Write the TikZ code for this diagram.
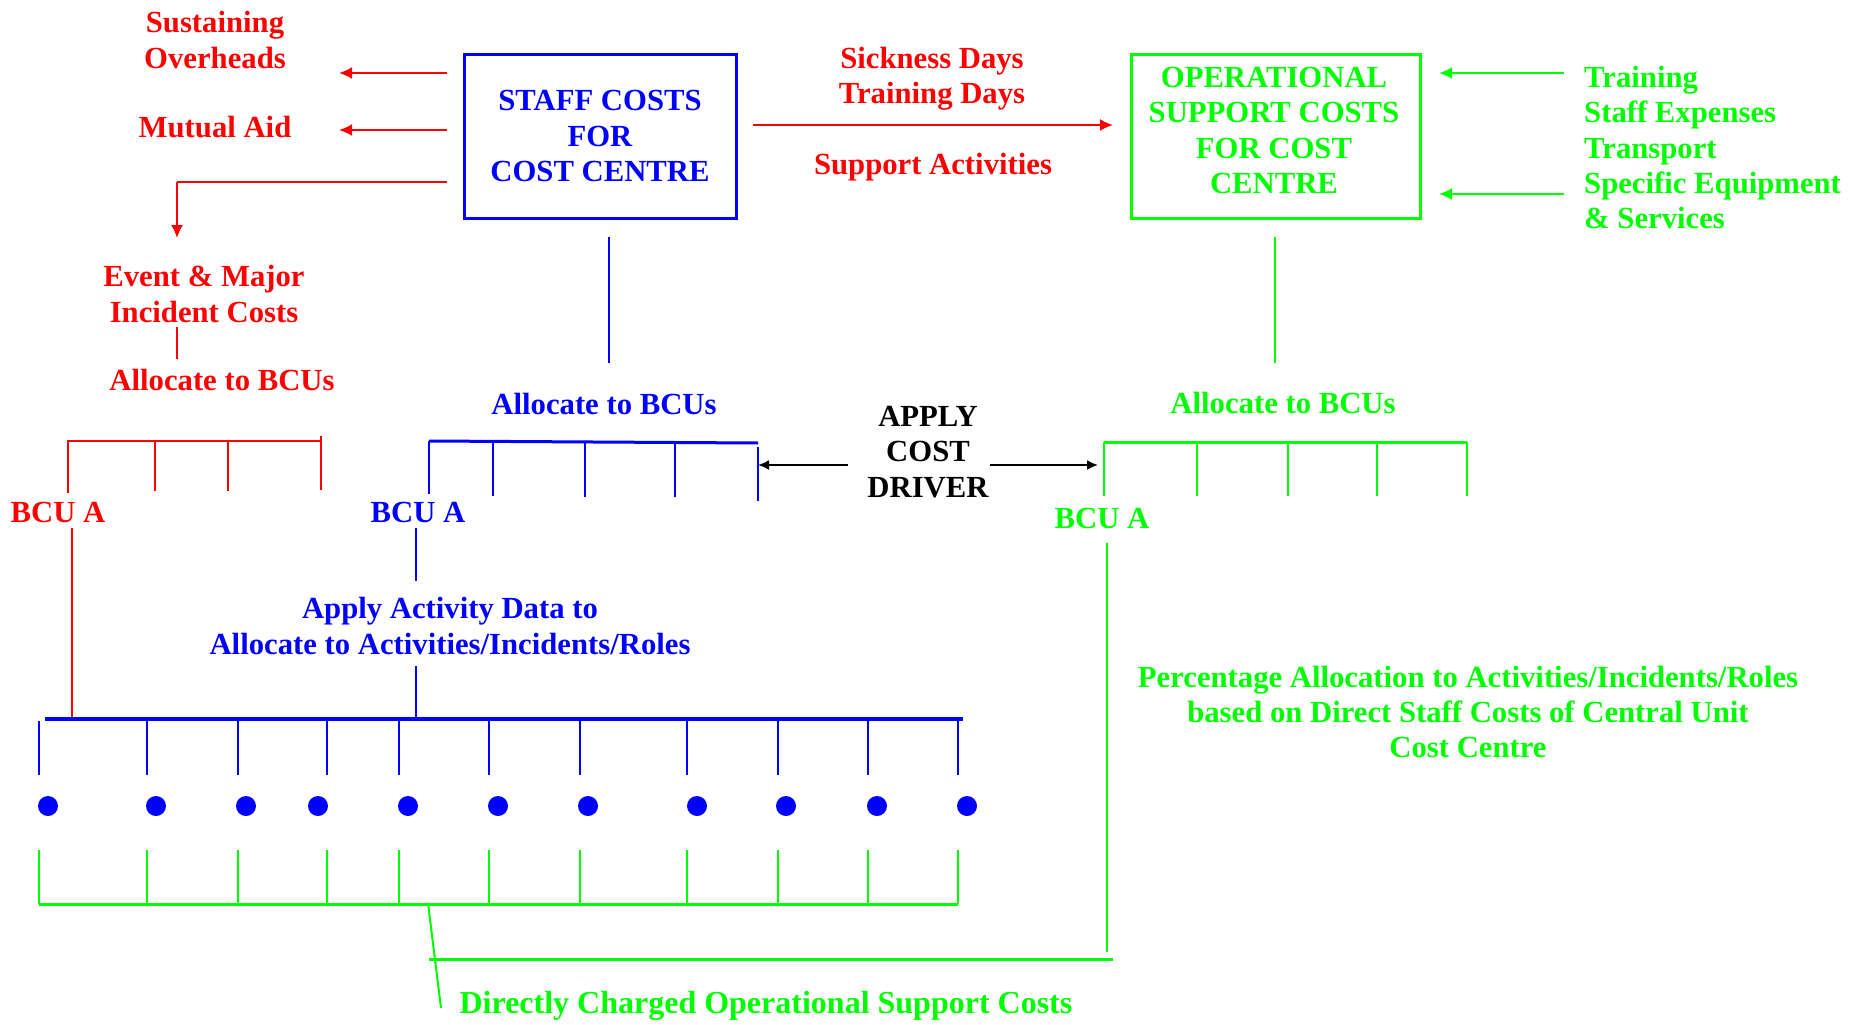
\documentclass[tikz,border=0pt]{standalone}
\usepackage{fontspec}
\setmainfont{Liberation Serif}
\usetikzlibrary{arrows.meta}
\definecolor{cred}{RGB}{255,0,0}
\definecolor{cblue}{RGB}{0,0,255}
\definecolor{cgreen}{RGB}{0,255,0}
\begin{document}
\begin{tikzpicture}[x=1pt,y=-1pt,
  txt/.style={font=\fontsize{30.7}{35.3}\selectfont\bfseries, inner sep=0pt, align=center},
  ln/.style={line width=2pt},
  thk/.style={line width=3pt},
  arr/.style={line width=2pt,-{Latex[length=13pt,width=12pt]}},
  boxst/.style={draw, line width=3pt, inner sep=0pt},
  dot/.style={circle, fill=cblue, inner sep=0pt, minimum size=20pt}
]
\useasboundingbox (0,0) rectangle (1864,1025);

% ---------------- boxes ----------------
\node[boxst, draw=cblue, minimum width=272pt, minimum height=163pt] (staff) at (600,136.5) {};
\node[txt, text=cblue] (stafftxt) at (600,136) {STAFF COSTS\\FOR\\COST CENTRE};
\node[boxst, draw=cgreen, minimum width=289pt, minimum height=163pt] (ops) at (1275.5,136.5) {};
\node[txt, text=cgreen] (opstxt) at (1274,130.5) {OPERATIONAL\\SUPPORT COSTS\\FOR COST\\CENTRE};

% ---------------- red texts ----------------
\node[txt, text=cred] (sust) at (215,40) {Sustaining\\Overheads};
\node[txt, text=cred] (mutual) at (215,127) {Mutual Aid};
\node[txt, text=cred] (event) at (204,294) {Event \& Major\\Incident Costs};
\node[txt, text=cred] (allocR) at (222,380) {Allocate to BCUs};
\node[txt, text=cred] (sick) at (932,79) {Sickness Days\\Training Days};
\node[txt, text=cred] (support) at (933,167) {Support Activities};
\node[txt, text=cred] (bcuR) at (58,512) {BCU A};

% ---------------- blue texts ----------------
\node[txt, text=cblue] (allocB) at (604,404) {Allocate to BCUs};
\node[txt, text=cblue] (bcuB) at (418,512) {BCU A};
\node[txt, text=cblue] (activity) at (450,626) {Apply Activity Data to\\Allocate to Activities/Incidents/Roles};

% ---------------- green texts ----------------
\node[txt, text=cgreen, align=left, anchor=west] (inputs) at (1584,147.5) {Training\\Staff Expenses\\Transport\\Specific Equipment\\\& Services};
\node[txt, text=cgreen] (allocG) at (1283,403) {Allocate to BCUs};
\node[txt, text=cgreen] (bcuG) at (1102,518) {BCU A};
\node[txt, text=cgreen] (percent) at (1468,712) {Percentage Allocation to Activities/Incidents/Roles\\based on Direct Staff Costs of Central Unit\\Cost Centre};
\node[txt, text=cgreen, font=\fontsize{32}{36}\selectfont\bfseries] (direct) at (766,1006) {Directly Charged Operational Support Costs};

% ---------------- black text ----------------
\node[txt] (apply) at (928,452) {APPLY\\COST\\DRIVER};

% ---------------- coordinates ----------------
\coordinate (r1s) at (447,73);   \coordinate (r1e) at (339,73);
\coordinate (r2s) at (447,130);  \coordinate (r2e) at (339,130);
\coordinate (r3s) at (447,182);  \coordinate (r3c) at (177,182); \coordinate (r3e) at (177,238);
\coordinate (r4s) at (177,327);  \coordinate (r4e) at (177,359);
\coordinate (r5s) at (753,125);  \coordinate (r5e) at (1113,125);
\coordinate (rvs) at (72,528);   \coordinate (rve) at (72,718);
\coordinate (g1s) at (1564,73);  \coordinate (g1e) at (1439,73);
\coordinate (g2s) at (1564,194); \coordinate (g2e) at (1439,194);
\coordinate (gvs) at (1275,237); \coordinate (gve) at (1275,363);
\coordinate (bvs) at (609,237);  \coordinate (bve) at (609,363);
\coordinate (b2s) at (416,528);  \coordinate (b2e) at (416,581);
\coordinate (b3s) at (416,666);  \coordinate (b3e) at (416,718);
\coordinate (bhs) at (45,719);   \coordinate (bhe) at (963,719);
\coordinate (k1s) at (848,465);  \coordinate (k1e) at (758,465);
\coordinate (k2s) at (990,465);  \coordinate (k2e) at (1098,465);
\coordinate (gls) at (1107,543); \coordinate (glc) at (1107,952);
\coordinate (ghs) at (1113,959); \coordinate (ghe) at (429,959);
\coordinate (sls) at (428,903);  \coordinate (sle) at (441,1008);

% ---------------- red connectors ----------------
\draw[arr, cred] (r1s) -- (r1e);
\draw[arr, cred] (r2s) -- (r2e);
\draw[ln, cred, line width=2.6pt] (r3s) -- (r3c);
\draw[arr, cred] (r3c) -- (r3e);
\draw[ln, cred] (r4s) -- (r4e);
\draw[arr, cred] (r5s) -- (r5e);
\draw[ln, cred] (rvs) -- (rve);
% red bracket
\draw[ln, cred] (68,493) -- (68,441) -- (321,441);
\draw[ln, cred] (321,436) -- (321,490);
\draw[ln, cred] (155,441) -- (155,491);
\draw[ln, cred] (228,441) -- (228,491);

% ---------------- blue connectors ----------------
\draw[ln, cblue] (bvs) -- (bve);
\draw[ln, cblue] (b2s) -- (b2e);
\draw[ln, cblue] (b3s) -- (b3e);
\draw[thk, cblue] (429,441) -- (758,443);
\draw[ln, cblue] (429,441) -- (429,494);
\draw[ln, cblue] (493,442) -- (493,496);
\draw[ln, cblue] (585,442) -- (585,497);
\draw[ln, cblue] (675,442) -- (675,497);
\draw[ln, cblue] (758,447) -- (758,501);
\draw[thk, cblue, line width=3.5pt] (bhs) -- (bhe);
\foreach \x in {39,147,238,327,399,489,580,687,778,868,958}
  \draw[ln, cblue] (\x,721) -- (\x,775);
\foreach \x [count=\i] in {48,156,246,318,408,498,588,697,786,877,967}
  \node[dot] (d\i) at (\x,806) {};

% ---------------- black arrows ----------------
\draw[line width=2pt, -{Latex[length=11pt,width=10pt]}] (k1s) -- (k1e);
\draw[line width=2pt, -{Latex[length=11pt,width=10pt]}] (k2s) -- (k2e);

% ---------------- green connectors ----------------
\draw[arr, cgreen] (g1s) -- (g1e);
\draw[arr, cgreen] (g2s) -- (g2e);
\draw[ln, cgreen] (gvs) -- (gve);
\draw[thk, cgreen] (1104,442) -- (1467,442);
\foreach \x in {1104,1197,1288,1377,1467}
  \draw[ln, cgreen] (\x,442) -- (\x,496);
\draw[ln, cgreen, line width=2.5pt] (gls) -- (glc);
\draw[thk, cgreen] (ghs) -- (ghe);
\draw[ln, cgreen] (sls) -- (sle);
\foreach \x in {39,147,238,327,399,489,580,687,778,868,958}
  \draw[ln, cgreen] (\x,850) -- (\x,904);
\draw[thk, cgreen] (39,904) -- (958,904);
\end{tikzpicture}
\end{document}
